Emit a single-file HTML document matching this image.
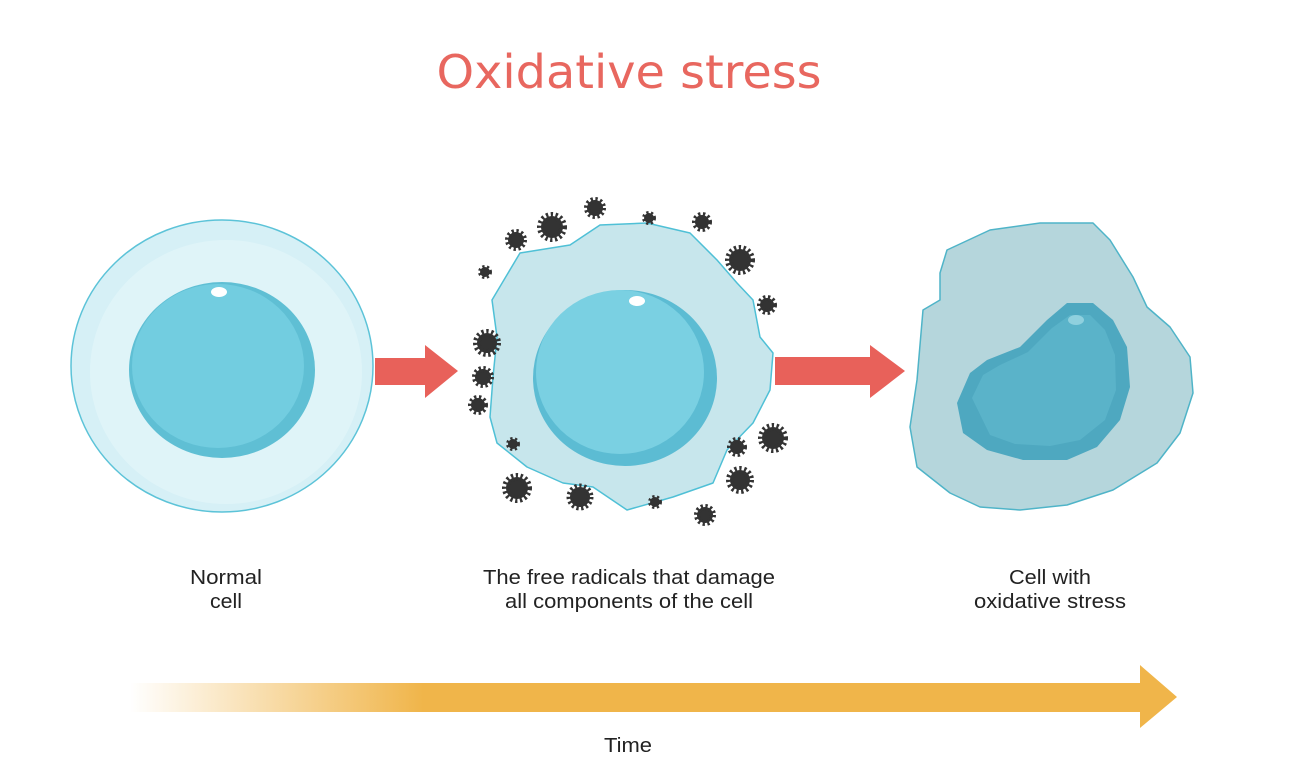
<!DOCTYPE html>
<html><head><meta charset="utf-8"><style>
html,body{margin:0;padding:0;background:#fff;}
svg{display:block}
</style></head><body>
<svg width="1298" height="766" viewBox="0 0 1298 766" xmlns="http://www.w3.org/2000/svg">
<defs>
<linearGradient id="tg" x1="130" y1="0" x2="1177" y2="0" gradientUnits="userSpaceOnUse">
<stop offset="0" stop-color="#f0b54a" stop-opacity="0"/>
<stop offset="0.28" stop-color="#f0b54a" stop-opacity="1"/>
<stop offset="1" stop-color="#f0b54a"/>
</linearGradient>
</defs>
<text x="629" y="88" text-anchor="middle" font-family="'DejaVu Sans','Liberation Sans',sans-serif" font-size="46" fill="#e8675f" textLength="385" lengthAdjust="spacingAndGlyphs">Oxidative stress</text>

<!-- Cell 1 -->
<ellipse cx="222" cy="366" rx="151" ry="146" fill="#d6f0f6" stroke="#5cc3d8" stroke-width="1.5"/>
<ellipse cx="226" cy="372" rx="136" ry="132" fill="#dff4f8"/>
<ellipse cx="222" cy="370" rx="93" ry="88" fill="#5fbfd4"/>
<ellipse cx="218" cy="366" rx="86" ry="82" fill="#72cde0"/>
<ellipse cx="219" cy="292" rx="8" ry="5" fill="#fff"/>
<!-- Arrow 1 -->
<polygon points="375,358 425,358 425,345 458,371 425,398 425,385 375,385" fill="#e8615a"/>

<!-- Cell 2 -->
<path d="M492,300 L520,253 L570,245 L600,225 L647,223 L690,233 L717,260 L737,283 L753,300 L760,337 L773,353 L770,390 L753,423 L727,450 L713,483 L673,497 L627,510 L593,487 L563,483 L527,467 L497,443 L490,417 L493,377 L497,337 Z" fill="#c7e6ec" stroke="#4fc0d6" stroke-width="1.5" stroke-linejoin="round"/>
<ellipse cx="625" cy="378" rx="92" ry="88" fill="#5cbcd3"/>
<ellipse cx="620" cy="372" rx="84" ry="82" fill="#7ad0e2"/>
<ellipse cx="637" cy="301" rx="8" ry="5" fill="#fff"/>

<!-- radicals -->
<g fill="#333" stroke="#333" stroke-dasharray="2 2.2">
<circle cx="552" cy="227" r="11" stroke-width="8"/>
<circle cx="516" cy="240" r="8" stroke-width="6"/>
<circle cx="595" cy="208" r="8" stroke-width="6"/>
<circle cx="649" cy="218" r="5" stroke-width="4"/>
<circle cx="702" cy="222" r="7" stroke-width="6"/>
<circle cx="740" cy="260" r="11" stroke-width="8"/>
<circle cx="485" cy="272" r="5" stroke-width="4"/>
<circle cx="767" cy="305" r="7" stroke-width="6"/>
<circle cx="487" cy="343" r="10" stroke-width="8"/>
<circle cx="483" cy="377" r="8" stroke-width="6"/>
<circle cx="478" cy="405" r="7" stroke-width="6"/>
<circle cx="513" cy="444" r="5" stroke-width="4"/>
<circle cx="737" cy="447" r="7" stroke-width="6"/>
<circle cx="773" cy="438" r="11" stroke-width="8"/>
<circle cx="740" cy="480" r="10" stroke-width="8"/>
<circle cx="517" cy="488" r="11" stroke-width="8"/>
<circle cx="580" cy="497" r="10" stroke-width="7"/>
<circle cx="655" cy="502" r="5" stroke-width="4"/>
<circle cx="705" cy="515" r="8" stroke-width="6"/>
</g>

<!-- Arrow 2 -->
<polygon points="775,357 870,357 870,345 905,371 870,398 870,385 775,385" fill="#e8615a"/>

<!-- Cell 3 -->
<path d="M940,273 L947,250 L990,230 L1040,223 L1093,223 L1110,240 L1133,277 L1147,307 L1170,327 L1190,357 L1193,393 L1180,433 L1157,463 L1113,490 L1067,505 L1020,510 L980,507 L950,493 L917,467 L910,427 L917,380 L923,310 L940,300 Z" fill="#b5d6dc" stroke="#4fb4c8" stroke-width="1.5" stroke-linejoin="round"/>
<path d="M957,403 L970,373 L987,360 L1020,347 L1047,320 L1067,303 L1093,303 L1113,320 L1127,347 L1130,387 L1120,420 L1097,447 L1067,460 L1023,460 L987,450 L963,433 Z" fill="#4ea8c0" stroke-linejoin="round"/>
<path d="M972,398 L983,375 L1000,365 L1028,352 L1052,328 L1070,315 L1090,315 L1105,330 L1115,355 L1116,390 L1105,420 L1080,440 L1050,446 L1015,444 L990,435 Z" fill="#5ab3c9"/>
<ellipse cx="1076" cy="320" rx="8" ry="5" fill="#8fd0de"/>

<!-- labels -->
<g font-family="'Liberation Sans',sans-serif" font-size="20" fill="#222" text-anchor="middle">
<text x="226" y="584" textLength="72" lengthAdjust="spacingAndGlyphs">Normal</text>
<text x="226" y="608" textLength="32" lengthAdjust="spacingAndGlyphs">cell</text>
<text x="629" y="584" textLength="292" lengthAdjust="spacingAndGlyphs">The free radicals that damage</text>
<text x="629" y="608" textLength="248" lengthAdjust="spacingAndGlyphs">all components of the cell</text>
<text x="1050" y="584" textLength="82" lengthAdjust="spacingAndGlyphs">Cell with</text>
<text x="1050" y="608" textLength="152" lengthAdjust="spacingAndGlyphs">oxidative stress</text>
<text x="628" y="752" textLength="48" lengthAdjust="spacingAndGlyphs">Time</text>
</g>

<!-- time arrow -->
<polygon points="130,683 1140,683 1140,665 1177,697 1140,728 1140,712 130,712" fill="url(#tg)"/>
</svg>
</body></html>
